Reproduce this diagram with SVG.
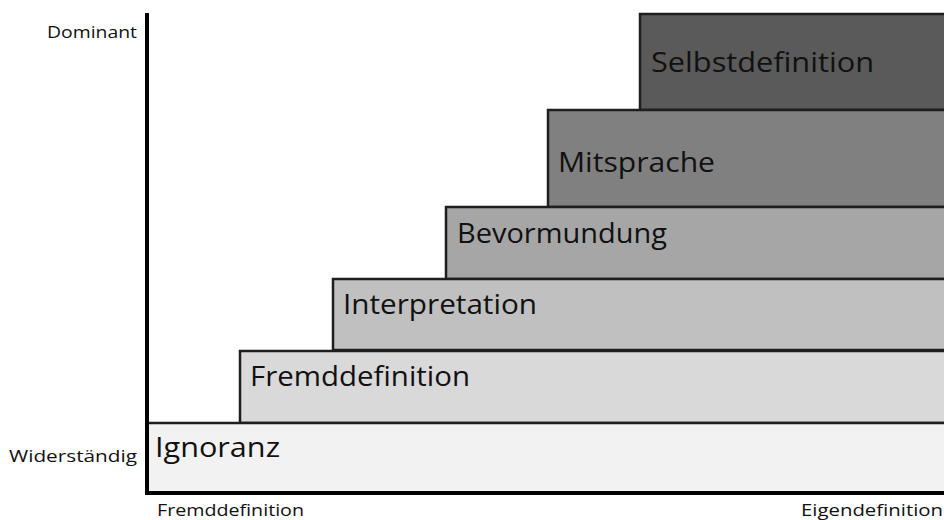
<svg xmlns="http://www.w3.org/2000/svg" width="944" height="520" viewBox="0 0 944 520">
<style>
.step{stroke:#1e1e1e;stroke-width:2.5}
.lbl{font-family:"Open Sans","DejaVu Sans",sans-serif;font-size:28px;fill:#111}
.ax{font-family:"Open Sans","DejaVu Sans",sans-serif;font-size:17px;fill:#111}
.axis{stroke:#000;stroke-width:4;fill:none}
</style>
<rect width="944" height="520" fill="#fff"/>
<g id="selbstdefinition"><rect class="step" x="640" y="14" width="310" height="96" fill="#5a5a5a"/><text class="lbl" x="651" y="72" textLength="223" lengthAdjust="spacingAndGlyphs" fill="#1a1a1a">Selbstdefinition</text></g>
<g id="mitsprache"><rect class="step" x="548" y="110" width="400" height="97" fill="#808080"/><text class="lbl" x="558" y="172" textLength="157" lengthAdjust="spacingAndGlyphs">Mitsprache</text></g>
<g id="bevormundung"><rect class="step" x="446" y="207" width="502" height="72" fill="#a6a6a6"/><text class="lbl" x="457" y="243" textLength="210" lengthAdjust="spacingAndGlyphs">Bevormundung</text></g>
<g id="interpretation"><rect class="step" x="333" y="279" width="615" height="71" fill="#c0c0c0"/><text class="lbl" x="343" y="314" textLength="194" lengthAdjust="spacingAndGlyphs">Interpretation</text></g>
<g id="fremddefinition"><rect class="step" x="240" y="351" width="708" height="72" fill="#d9d9d9"/><text class="lbl" x="250" y="386" textLength="220" lengthAdjust="spacingAndGlyphs">Fremddefinition</text></g>
<g id="ignoranz"><rect class="step" x="147" y="423" width="801" height="70" fill="#f2f2f2"/><text class="lbl" x="155" y="457" textLength="125" lengthAdjust="spacingAndGlyphs">Ignoranz</text></g>
<g id="axes"><path class="axis" d="M147 13 V495 M145 493 H944"/></g>
<g id="labels">
<text class="ax" x="47" y="38" textLength="90" lengthAdjust="spacingAndGlyphs">Dominant</text>
<text class="ax" x="9" y="462" textLength="128" lengthAdjust="spacingAndGlyphs">Widerständig</text>
<text class="ax" x="157" y="516" textLength="147" lengthAdjust="spacingAndGlyphs">Fremddefinition</text>
<text class="ax" x="801" y="516" textLength="142" lengthAdjust="spacingAndGlyphs">Eigendefinition</text>
</g>
</svg>
